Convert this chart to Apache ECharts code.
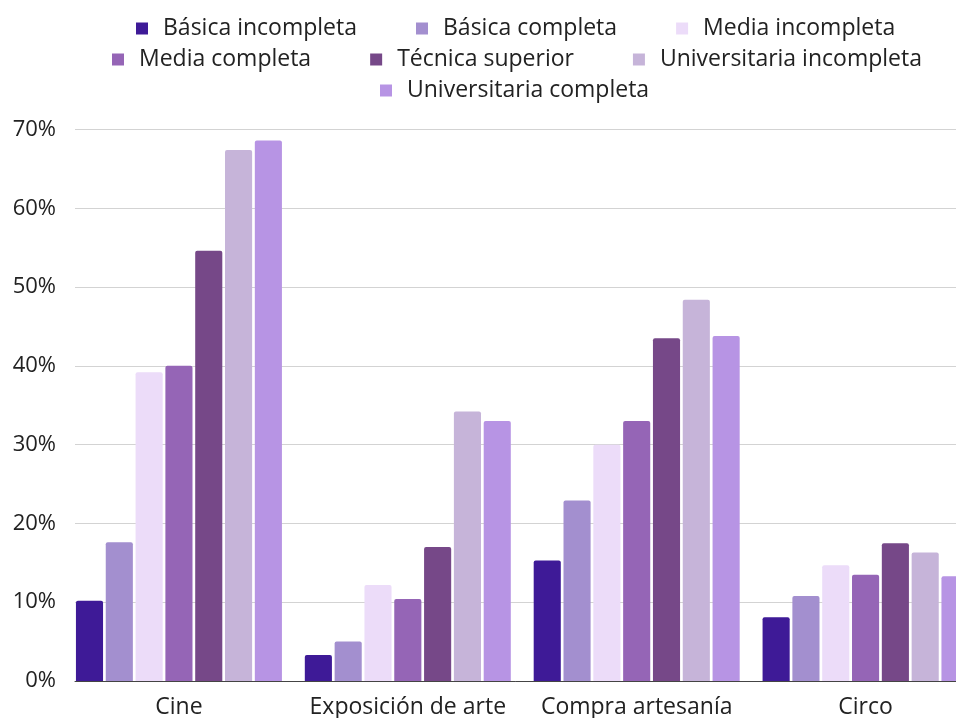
<!DOCTYPE html>
<html>
<head>
<meta charset="utf-8">
<script src="https://cdn.jsdelivr.net/npm/echarts@6/dist/echarts.min.js"></script>
<style>
html,body{margin:0;padding:0;background:#fff;}
#c{width:956px;height:718px;}
</style>
</head>
<body>
<div id="c"></div>
<script>
const categories = ["Cine", "Exposición de arte", "Compra artesanía", "Circo"];
const seriesNames = ["Básica incompleta", "Básica completa", "Media incompleta", "Media completa", "Técnica superior", "Universitaria incompleta", "Universitaria completa"];
const basicaIncompleta = [10.2, 3.3, 15.3, 8.1];
const basicaCompleta = [17.6, 5.0, 22.9, 10.8];
const mediaIncompleta = [39.2, 12.2, 30.0, 14.7];
const mediaCompleta = [40.0, 10.4, 33.0, 13.5];
const tecnicaSuperior = [54.6, 17.0, 43.5, 17.5];
const univIncompleta = [67.4, 34.2, 48.4, 16.3];
const univCompleta = [68.6, 33.0, 43.8, 13.3];
const yTicks = [0, 10, 20, 30, 40, 50, 60, 70];

const values = [basicaIncompleta, basicaCompleta, mediaIncompleta, mediaCompleta, tecnicaSuperior, univIncompleta, univCompleta];
const colors = ["#3e1a97", "#a38fcf", "#ecdcf9", "#9565b6", "#764888", "#c6b4d9", "#b794e4"];
const font = "'Open Sans'";

const chart = echarts.init(document.getElementById('c'), null, {renderer: 'canvas'});

function legend(names, top, left) {
  return {
    data: names, top: top, left: left, orient: 'horizontal', padding: 0,
    itemWidth: 12, itemHeight: 12, itemGap: 59, icon: 'rect',
    textStyle: {fontFamily: font, fontSize: 23, color: '#222', padding: [0, 0, 0, 10]}
  };
}

chart.setOption({
  animation: false,
  backgroundColor: '#fff',
  legend: [
    legend(seriesNames.slice(0, 3), 17, 136),
    legend(seriesNames.slice(3, 6), 48, 112),
    legend(seriesNames.slice(6), 380 > 0 ? 79 : 79, 380)
  ],
  grid: [
    {left: 64.5, top: 129.5, right: -24, bottom: 37, containLabel: false, outerBoundsMode: 'none'},
    {left: 75, top: 129.5, right: -30, bottom: 37, containLabel: false, outerBoundsMode: 'none'}
  ],
  xAxis: [
    {type: 'category', gridIndex: 0, data: categories,
     axisLine: {show: false}, axisTick: {show: false},
     axisLabel: {interval: 0, fontFamily: font, fontSize: 23, color: '#222', margin: 15, hideOverlap: false}},
    {type: 'value', gridIndex: 1, min: 0, max: 1, show: true,
     axisLine: {show: true, lineStyle: {color: '#444', width: 1}},
     axisTick: {show: false}, axisLabel: {show: false}, splitLine: {show: false}}
  ],
  yAxis: [
    {type: 'value', gridIndex: 0, min: 0, max: 70, interval: 10, show: false},
    {type: 'value', gridIndex: 1, min: 0, max: 70, interval: 10,
     axisLine: {show: false}, axisTick: {show: false},
     axisLabel: {fontFamily: font, fontSize: 22, color: '#222', margin: 19,
       formatter: v => yTicks.includes(v) ? v + '%' : ''},
     splitLine: {lineStyle: {color: '#d3d3d3', width: 1}}}
  ],
  series: seriesNames.map((n, i) => ({
    name: n, type: 'bar', xAxisIndex: 0, yAxisIndex: 0,
    data: values[i], barGap: '10%', barCategoryGap: '10%',
    itemStyle: {color: colors[i], borderRadius: [2, 2, 0, 0]},
    z: 3
  }))
});
</script>
</body>
</html>
